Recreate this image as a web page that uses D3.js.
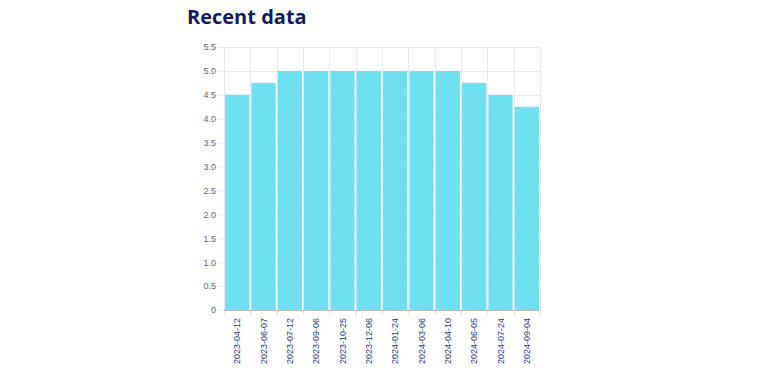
<!DOCTYPE html>
<html><head><meta charset="utf-8">
<script src="https://cdn.jsdelivr.net/npm/d3@7"></script>
<style>body{margin:0;background:#fff;}svg{display:block;}</style>
</head><body>
<svg id="c" width="759" height="380"></svg>
<script>
const categories = ["2023-04-12","2023-06-07","2023-07-12","2023-09-06","2023-10-25","2023-12-06","2024-01-24","2024-03-06","2024-04-10","2024-06-05","2024-07-24","2024-09-04"];
const values = [4.5,4.75,5,5,5,5,5,5,5,4.75,4.5,4.25];
const yTicks = [0,0.5,1,1.5,2,2.5,3,3.5,4,4.5,5,5.5];

const svg = d3.select("#c");
const m = {l:224, r:540, t:47, b:310};
const x = d3.scaleBand().domain(categories).range([m.l, m.r]).paddingInner(0.08).paddingOuter(0.04);
const xg = d3.scaleBand().domain(categories).range([m.l, m.r]);
const y = d3.scaleLinear().domain([0,5.5]).range([m.b, m.t]);

svg.append("text").attr("x",187).attr("y",24).attr("font-family","Open Sans, sans-serif")
  .attr("font-weight",700).attr("font-size",20).attr("fill","#151a5c").text("Recent data");

// grid
svg.append("g").selectAll("line").data(yTicks).join("line")
  .attr("x1",m.l-6).attr("x2",m.r).attr("y1",d=>y(d)+0.5).attr("y2",d=>y(d)+0.5)
  .attr("stroke","#e8e8e8");
svg.append("g").selectAll("line").data(categories).join("line")
  .attr("x1",d=>Math.round(xg(d))+0.5).attr("x2",d=>Math.round(xg(d))+0.5).attr("y1",m.t).attr("y2",m.b+5)
  .attr("stroke","#e8e8e8");
svg.append("line").attr("x1",m.r+0.5).attr("x2",m.r+0.5).attr("y1",m.t).attr("y2",m.b+5).attr("stroke","#e8e8e8");

// bars
svg.append("g").selectAll("rect").data(values).join("rect")
  .attr("x",(d,i)=>x(categories[i])).attr("width",x.bandwidth())
  .attr("y",d=>y(d)).attr("height",d=>y(0)-y(d)).attr("fill","#6fe0f0");

// axis line
svg.append("line").attr("x1",m.l).attr("x2",m.r).attr("y1",m.b+0.5).attr("y2",m.b+0.5).attr("stroke","#bbb");

// y labels
const yAxis = d3.axisLeft(y).tickValues(yTicks).tickSize(0).tickPadding(8)
  .tickFormat(d=> d===0 ? "0" : d3.format(".1f")(d));
const ya = svg.append("g").attr("transform",`translate(${m.l},0)`).call(yAxis);
ya.select(".domain").remove();
ya.selectAll("text").attr("font-family","Arial, Liberation Sans, sans-serif").attr("font-size",9).attr("fill","#666");

// x labels
const xAxis = d3.axisBottom(xg).tickSize(0).tickPadding(0);
const xa = svg.append("g").attr("transform",`translate(0,${m.b})`).call(xAxis);
xa.select(".domain").remove();
xa.selectAll("text").attr("font-family","Arial, Liberation Sans, sans-serif").attr("font-size",9).attr("fill","#2c3a7a")
  .attr("transform","rotate(-90)").attr("text-anchor","end").attr("dy","0.35em").attr("x",-8).attr("y",0);
</script>
</body></html>
